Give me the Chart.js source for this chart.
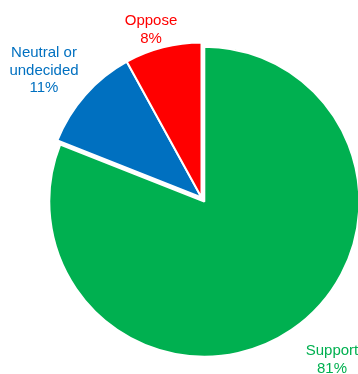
<!DOCTYPE html>
<html>
<head>
<meta charset="utf-8">
<script src="https://cdn.jsdelivr.net/npm/chart.js@4"></script>
<style>
  html, body { margin: 0; padding: 0; background: #fff; }
  #wrap { width: 358px; height: 374px; position: relative; }
</style>
</head>
<body>
<div id="wrap"><canvas id="pieChart"></canvas></div>
<script>
const categories = ["Support", "Neutral or undecided", "Oppose"];
const shares = [81, 11, 8];
const sliceColors = ["#00B050", "#0070C0", "#FF0000"];

// text lines for each slice label, and where they sit
const labelLines = [
    ["Support", "81%"],
    ["Neutral or", "undecided", "11%"],
    ["Oppose", "8%"]
];
const labelSpots = [[332, 351], [44, 53], [151, 21]];

// pulls the Support slice a few pixels out along its middle angle
const explodePlugin = {
    id: "explode",
    beforeDatasetDraw(chart) {
        const arc = chart.getDatasetMeta(0).data[0];
        if (!arc || arc._exploded) return;
        const draw = arc.draw.bind(arc);
        arc.draw = function(ctx, area) {
            const mid = (this.startAngle + this.endAngle) / 2;
            ctx.save();
            ctx.translate(Math.cos(mid) * 5, Math.sin(mid) * 5);
            draw(ctx, area);
            ctx.restore();
        };
        arc._exploded = true;
    }
};

// slice labels outside the pie, coloured like their slice
const sliceLabels = {
    id: "sliceLabels",
    afterDraw(chart) {
        const ctx = chart.ctx;
        ctx.save();
        ctx.font = "15px 'Liberation Sans', Arial, sans-serif";
        ctx.textAlign = "center";
        ctx.textBaseline = "middle";
        labelLines.forEach((lines, i) => {
            const [x, y] = labelSpots[i];
            ctx.fillStyle = sliceColors[i];
            lines.forEach((t, k) => {
                const txt = k === lines.length - 1 ? shares[i] + "%" : t;
                ctx.fillText(txt, x, y + k * 17.5);
            });
        });
        ctx.restore();
    }
};

new Chart(document.getElementById("pieChart"), {
    type: "pie",
    data: {
        labels: categories,
        datasets: [{
            data: shares,
            backgroundColor: sliceColors,
            borderColor: "#ffffff",
            borderWidth: 2
        }]
    },
    options: {
        responsive: true,
        maintainAspectRatio: false,
        animation: false,
        layout: {
            padding: { left: 45.5, right: 0.5, top: 41.5, bottom: 20.5 }
        },
        plugins: {
            legend: { display: false },
            tooltip: { enabled: false }
        }
    },
    plugins: [explodePlugin, sliceLabels]
});
</script>
</body>
</html>
